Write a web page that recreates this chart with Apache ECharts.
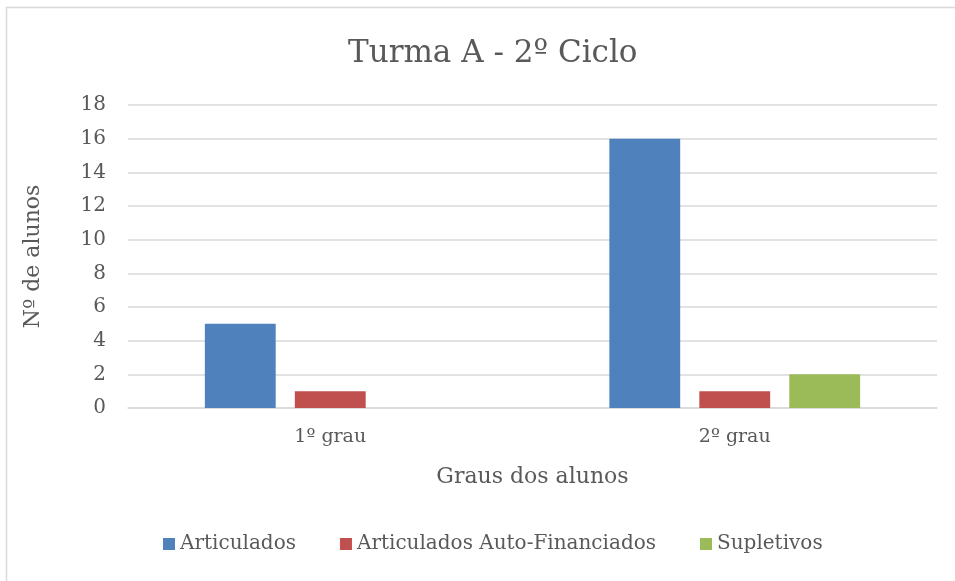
<!DOCTYPE html>
<html>
<head>
<meta charset="utf-8">
<script src="https://cdn.jsdelivr.net/npm/echarts@6/dist/echarts.min.js"></script>
<style>
  html, body { margin: 0; padding: 0; background: #fff; }
  #chart { width: 955px; height: 581px; }
</style>
</head>
<body>
<div id="chart"></div>
<script>
const categories = ['1º grau', '2º grau']
const articulados = [5, 16]
const autoFinanciados = [1, 1]
const supletivos = [0, 2]
const seriesNames = ['Articulados', 'Articulados Auto-Financiados', 'Supletivos']

const font = 'DejaVu Serif'
const textColor = '#595959'

const chart = echarts.init(document.getElementById('chart'))

chart.setOption({
  animation: false,
  color: ['#4F81BD', '#C0504D', '#9BBB59'],
  textStyle: { fontFamily: font },
  // light frame of the chart area (only top and left edges are visible)
  graphic: [{
    type: 'rect',
    shape: { x: 6.5, y: 7.5, width: 1000, height: 1000 },
    style: { fill: 'none', stroke: '#D9D9D9', lineWidth: 1.5 },
    silent: true,
  }],
  title: {
    text: 'Turma A - 2º Ciclo',
    left: 343,
    top: 33,
    textStyle: { fontFamily: font, fontSize: 31, fontWeight: 'normal', color: textColor },
  },
  legend: {
    data: seriesNames,
    bottom: 22,
    left: 158,
    itemWidth: 12,
    itemHeight: 12,
    itemGap: 44,
    icon: 'rect',
    textStyle: { fontFamily: font, fontSize: 20, color: textColor },
  },
  grid: { left: 128, right: 18, top: 105, bottom: 173 },
  xAxis: {
    type: 'category',
    data: categories,
    name: 'Graus dos alunos',
    nameLocation: 'middle',
    nameGap: 58,
    nameTextStyle: { fontFamily: font, fontSize: 22, color: textColor },
    axisLine: { lineStyle: { color: '#D9D9D9', width: 1.5 } },
    axisTick: { show: false },
    axisLabel: { fontFamily: font, fontSize: 19, color: textColor, margin: 20 },
  },
  yAxis: {
    type: 'value',
    min: 0,
    max: 18,
    interval: 2,
    name: 'Nº de alunos',
    nameLocation: 'middle',
    nameGap: 84,
    nameRotate: 90,
    nameTextStyle: { fontFamily: font, fontSize: 22, color: textColor },
    axisLine: { show: false },
    axisTick: { show: false },
    splitLine: { lineStyle: { color: '#D9D9D9', width: 1.5 } },
    axisLabel: { fontFamily: font, fontSize: 20, color: textColor, margin: 22 },
  },
  series: [
    { name: seriesNames[0], type: 'bar', data: articulados, barGap: '27%', barCategoryGap: '38%' },
    { name: seriesNames[1], type: 'bar', data: autoFinanciados, barGap: '27%', barCategoryGap: '38%' },
    { name: seriesNames[2], type: 'bar', data: supletivos, barGap: '27%', barCategoryGap: '38%' },
  ],
})
</script>
</body>
</html>
